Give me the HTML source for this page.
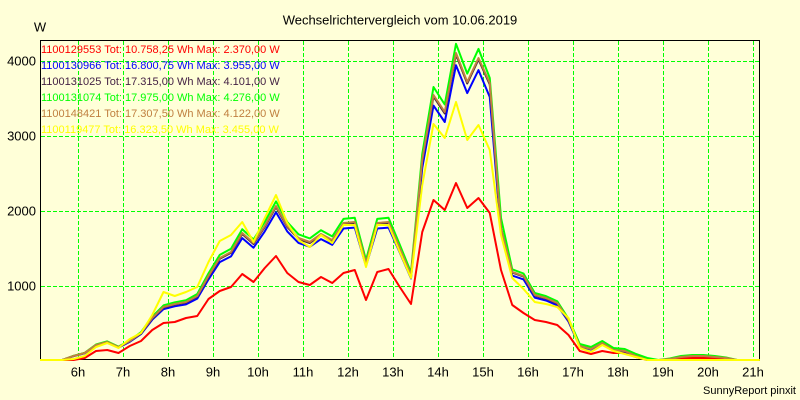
<!DOCTYPE html>
<html><head><meta charset="utf-8"><style>
html,body{margin:0;padding:0;background:#FFFFD8;}
svg{display:block;font-family:"Liberation Sans",Arial,sans-serif;}
</style></head><body>
<svg width="800" height="400" viewBox="0 0 800 400" xmlns="http://www.w3.org/2000/svg">
<rect x="0" y="0" width="800" height="400" fill="#FFFFD8"/>
<text x="400" y="24.5" font-size="13" text-anchor="middle" fill="#000">Wechselrichtervergleich vom 10.06.2019</text>
<text x="40" y="31.5" font-size="13" text-anchor="middle" fill="#000">W</text>
<g font-size="13" fill="#000" text-anchor="end">
<text x="36" y="65.5">4000</text>
<text x="36" y="140.5">3000</text>
<text x="36" y="215.5">2000</text>
<text x="36" y="290.5">1000</text>
</g>
<g font-size="13" fill="#000" text-anchor="middle">
<text x="78" y="376.5">6h</text><text x="123" y="376.5">7h</text><text x="168" y="376.5">8h</text><text x="213" y="376.5">9h</text><text x="258" y="376.5">10h</text><text x="303" y="376.5">11h</text><text x="348" y="376.5">12h</text><text x="393" y="376.5">13h</text><text x="438" y="376.5">14h</text><text x="483" y="376.5">15h</text><text x="528" y="376.5">16h</text><text x="573" y="376.5">17h</text><text x="618" y="376.5">18h</text><text x="663" y="376.5">19h</text><text x="708" y="376.5">20h</text><text x="753" y="376.5">21h</text>
</g>
<text x="796" y="394" font-size="11" text-anchor="end" fill="#000">SunnyReport pinxit</text>
<g stroke="#00FF00" stroke-width="1" stroke-dasharray="4,2" shape-rendering="crispEdges">
<line x1="41" y1="61.5" x2="759" y2="61.5"/><line x1="41" y1="136.5" x2="759" y2="136.5"/><line x1="41" y1="211.5" x2="759" y2="211.5"/><line x1="41" y1="286.5" x2="759" y2="286.5"/>
<line x1="78.5" y1="41" x2="78.5" y2="359"/><line x1="123.5" y1="41" x2="123.5" y2="359"/><line x1="168.5" y1="41" x2="168.5" y2="359"/><line x1="213.5" y1="41" x2="213.5" y2="359"/><line x1="258.5" y1="41" x2="258.5" y2="359"/><line x1="303.5" y1="41" x2="303.5" y2="359"/><line x1="348.5" y1="41" x2="348.5" y2="359"/><line x1="393.5" y1="41" x2="393.5" y2="359"/><line x1="438.5" y1="41" x2="438.5" y2="359"/><line x1="483.5" y1="41" x2="483.5" y2="359"/><line x1="528.5" y1="41" x2="528.5" y2="359"/><line x1="573.5" y1="41" x2="573.5" y2="359"/><line x1="618.5" y1="41" x2="618.5" y2="359"/><line x1="663.5" y1="41" x2="663.5" y2="359"/><line x1="708.5" y1="41" x2="708.5" y2="359"/><line x1="753.5" y1="41" x2="753.5" y2="359"/>
</g>
<rect x="40.5" y="40.5" width="719" height="319" fill="none" stroke="#000" stroke-width="1" shape-rendering="crispEdges"/>
<g font-size="11">
<text x="41" y="53" fill="#FF0000">1100129553 Tot: 10.758,25 Wh Max: 2.370,00 W</text>
<text x="41" y="69" fill="#0000FF">1100130966 Tot: 16.800,75 Wh Max: 3.955,00 W</text>
<text x="41" y="85" fill="#442244">1100131025 Tot: 17.315,00 Wh Max: 4.101,00 W</text>
<text x="41" y="101" fill="#00FF00">1100131074 Tot: 17.975,00 Wh Max: 4.276,00 W</text>
<text x="41" y="117" fill="#C08040">1100148421 Tot: 17.307,50 Wh Max: 4.122,00 W</text>
<text x="41" y="133" fill="#FFFF00">1100119477 Tot: 16.323,50 Wh Max: 3.455,00 W</text>
</g>
<g transform="translate(1,0)" fill="none" stroke-width="2" stroke-linejoin="round">
<polyline stroke="#FF0000" points="39,360 61.25,360 72.5,360 83.75,358 95,351 106.25,350 117.5,353 128.75,346 140,341 151.25,330 162.5,323 173.75,322 185,318 196.25,316 207.5,299 218.75,291 230,287 241.25,274 252.5,282 263.75,268 275,256 286.25,273 297.5,282 308.75,285 320,277 331.25,283 342.5,273 353.75,270 365,300 376.25,272 387.5,269 398.75,287 410,304 421.25,232 432.5,200 443.75,210 455,183 466.25,208 477.5,198 488.75,213 500,270 511.25,305 522.5,313 533.75,320 545,322 556.25,325 567.5,335 578.75,351 590,354 601.25,351 612.5,353 623.75,353 635,357 646.25,360 657.5,360 668.75,360 680,358 691.25,358 702.5,358 713.75,358 725,360 758.75,360"/>
<polyline stroke="#0000FF" points="39,360 61.25,360 72.5,356.2 83.75,353.3 95,345.6 106.25,342.8 117.5,347.6 128.75,341.8 140,334.1 151.25,319.7 162.5,309.2 173.75,306.3 185,304.4 196.25,298.6 207.5,279.4 218.75,262.1 230,256.4 241.25,238.1 252.5,247.7 263.75,231.4 275,212.2 286.25,231.4 297.5,242.9 308.75,246.8 320,239.1 331.25,244.8 342.5,228.5 353.75,227.6 365,266 376.25,228.5 387.5,227.6 398.75,252.5 410,278.4 421.25,168 432.5,105.6 443.75,122 455,65.2 466.25,93.1 477.5,70.1 488.75,97 500,233.3 511.25,275.6 522.5,279.4 533.75,297.6 545,300.5 556.25,305.3 567.5,321.6 578.75,346.6 590,349.5 601.25,343.7 612.5,350.4 623.75,351.4 635,356.2 646.25,360 758.75,360"/>
<polyline stroke="#442244" points="39,360 61.25,360 72.5,356 83.75,353 95,345.2 106.25,342.2 117.5,347.2 128.75,341.2 140,333.5 151.25,318.5 162.5,307.5 173.75,304.5 185,302.5 196.25,296.5 207.5,276.7 218.75,258.8 230,252.8 241.25,234 252.5,244 263.75,227 275,207 286.25,227 297.5,239 308.75,243 320,235 331.25,241 342.5,224 353.75,223 365,264 376.25,224 387.5,223 398.75,249 410,275.5 421.25,161 432.5,96.5 443.75,113.5 455,54.5 466.25,83.5 477.5,59.5 488.75,84.5 500,229 511.25,272.5 522.5,276.5 533.75,295.5 545,298.5 556.25,303.5 567.5,320.5 578.75,346 590,349 601.25,343.2 612.5,350 623.75,351 635,356 646.25,360 758.75,360"/>
<polyline stroke="#00FF00" points="39,360 61.25,360 72.5,355.8 83.75,352.8 95,344.5 106.25,341.4 117.5,346.6 128.75,340.4 140,332.2 151.25,316.7 162.5,305.4 173.75,302.3 185,300.2 196.25,294 207.5,273.4 218.75,254.9 230,248.7 241.25,229.2 252.5,239.5 263.75,222 275,201.4 286.25,222 297.5,234.3 308.75,238.4 320,230.2 331.25,236.4 342.5,218.9 353.75,217.8 365,260 376.25,218.9 387.5,217.8 398.75,244.6 410,272.4 421.25,154 432.5,87 443.75,104.5 455,43.8 466.25,73.6 477.5,48.9 488.75,78 500,218 511.25,269.3 522.5,273.5 533.75,293 545,296.1 556.25,301.3 567.5,318.8 578.75,344 590,347 601.25,341 612.5,348 623.75,349 635,354 646.25,358 657.5,360 668.75,358.5 680,356 691.25,355 702.5,355 713.75,356 725,357.5 736.25,360 758.75,360"/>
<polyline stroke="#C08040" points="39,360 61.25,360 72.5,356 83.75,353 95,345 106.25,342 117.5,347 128.75,341 140,333 151.25,318 162.5,307 173.75,304 185,302 196.25,296 207.5,276 218.75,258 230,252 241.25,233 252.5,243 263.75,226 275,206 286.25,226 297.5,238 308.75,242 320,234 331.25,240 342.5,223 353.75,222 365,263 376.25,223 387.5,222 398.75,248 410,275 421.25,160 432.5,95 443.75,112 455,53 466.25,82 477.5,58 488.75,83 500,228 511.25,272 522.5,276 533.75,295 545,298 556.25,303 567.5,320 578.75,346 590,349 601.25,343 612.5,350 623.75,351 635,356 646.25,360 657.5,360 668.75,359 680,357 691.25,356 702.5,356 713.75,357 725,358 736.25,360 758.75,360"/>
<polyline stroke="#FFFF00" points="39,360 61.25,360 72.5,359 83.75,356 95,347 106.25,343 117.5,348 128.75,339 140,333 151.25,315 162.5,292 173.75,296 185,292 196.25,287 207.5,262 218.75,241 230,235 241.25,222 252.5,242 263.75,218 275,195 286.25,223 297.5,240 308.75,247 320,235 331.25,243 342.5,225 353.75,225 365,267 376.25,225 387.5,225 398.75,252 410,278 421.25,185 432.5,124 443.75,138 455,102 466.25,140 477.5,125 488.75,150 500,235 511.25,278 522.5,289 533.75,302 545,304 556.25,307 567.5,318 578.75,348 590,352 601.25,345 612.5,351 623.75,354 635,357 646.25,360 758.75,360"/>
</g>
</svg>
</body></html>
